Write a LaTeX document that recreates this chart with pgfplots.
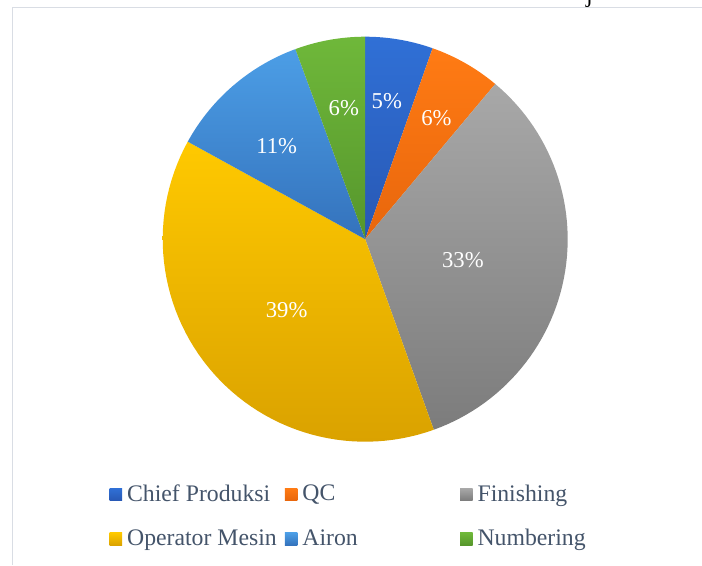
\documentclass[border=0pt]{standalone}
\usepackage{pgfplots}
\pgfplotsset{compat=1.18}
\usepackage{pgfplotstable}
\usepgfplotslibrary{polar}
\usepackage{fontspec}
\setmainfont{Liberation Serif}

\definecolor{chiefA}{HTML}{3070D6}
\definecolor{chiefB}{HTML}{2858B4}
\definecolor{qcA}{HTML}{FF7B14}
\definecolor{qcB}{HTML}{E8660C}
\definecolor{finA}{HTML}{A8A8A8}
\definecolor{finB}{HTML}{7C7C7C}
\definecolor{opA}{HTML}{FFC900}
\definecolor{opB}{HTML}{DAA200}
\definecolor{airA}{HTML}{4C9EE6}
\definecolor{airB}{HTML}{3472BC}
\definecolor{numA}{HTML}{6FB83A}
\definecolor{numB}{HTML}{56962C}
\definecolor{legendtext}{HTML}{44546A}
\definecolor{framec}{HTML}{D9DDE4}

\tikzset{lbl/.style={text=white, font=\fontsize{17}{20}\selectfont, yshift=-3pt}}

% share of each job (percent), clockwise from 12 o'clock
\pgfplotstableread{
job        share  rad
Chief      5.4    0.71
QC         5.7    0.71
Finishing  33.4   0.49
Operator   38.5   0.51
Airon      11.4   0.63
Numbering  5.6    0.68
}\jobs

% one wedge: #1 row, #2 top colour, #3 bottom colour, #4 label, #5 legend, #6 label shift
\newcommand\slice[6]{%
  \addplot[draw=none, top color=#2, bottom color=#3,
    domain=\csname lo#1\endcsname:\csname hi#1\endcsname, samples=60]
    {1} -- (axis cs:0,0) -- cycle;
  \addlegendentry{#5}
  \node[lbl, #6] at (axis cs:\csname mid#1\endcsname,\csname rad#1\endcsname) {#4};
}

\begin{document}
\begin{tikzpicture}
\useasboundingbox (0,0) rectangle (526.5pt,423.75pt);
\draw[framec, line width=1.1pt] (9.4pt,0) -- (9.4pt,418.1pt) -- (526.5pt,418.1pt);
\node[anchor=base, font=\fontsize{17.8}{20}\selectfont] at (442pt,421.5pt) {j};

\def\cumsum{0}
\pgfplotsforeachungrouped \i in {0,...,5}{%
  \pgfplotstablegetelem{\i}{share}\of\jobs
  \let\share\pgfplotsretval
  \pgfmathsetmacro\lo{90-3.6*(\cumsum+\share)}%
  \pgfmathsetmacro\hi{90-3.6*\cumsum}%
  \expandafter\xdef\csname lo\i\endcsname{\lo}%
  \expandafter\xdef\csname hi\i\endcsname{\hi}%
  \pgfmathsetmacro\mid{(\lo+\hi)/2}%
  \expandafter\xdef\csname mid\i\endcsname{\mid}%
  \pgfplotstablegetelem{\i}{rad}\of\jobs
  \expandafter\xdef\csname rad\i\endcsname{\pgfplotsretval}%
  \pgfmathsetmacro\cumsum{\cumsum+\share}%
}

\begin{polaraxis}[
    hide axis,
    scale only axis,
    width=303.75pt, height=303.75pt,
    ymin=0, ymax=1,
    clip=false,
    at={(273.9pt,244.35pt)}, anchor=center,
    legend columns=3,
    legend cell align=left,
    legend image code/.code={\path[#1] (0pt,-5.1pt) rectangle (9.4pt,4.3pt);},
    legend style={draw=none, fill=none, inner sep=0pt,
      at={(-0.1317,-0.1051)}, anchor=north west,
      font=\fontsize{17.8}{21}\selectfont, text=legendtext,
      row sep=19.5pt, nodes={inner sep=0pt}},
  ]
  \slice{0}{chiefA}{chiefB}{5\%}{\makebox[122pt][l]{\hspace{3.75pt}Chief Produksi}}{xshift=-2pt}
  \slice{1}{qcA}{qcB}{6\%}{\makebox[122pt][l]{\hspace{3.75pt}QC}}{}
  \slice{2}{finA}{finB}{33\%}{\hspace{3.75pt}Finishing}{}
  \slice{3}{opA}{opB}{39\%}{\makebox[122pt][l]{\hspace{3.75pt}Operator Mesin}}{}
  \slice{4}{airA}{airB}{11\%}{\makebox[122pt][l]{\hspace{3.75pt}Airon}}{xshift=-4pt}
  \slice{5}{numA}{numB}{6\%}{\hspace{3.75pt}Numbering}{xshift=2pt}
\end{polaraxis}
\end{tikzpicture}
\end{document}
